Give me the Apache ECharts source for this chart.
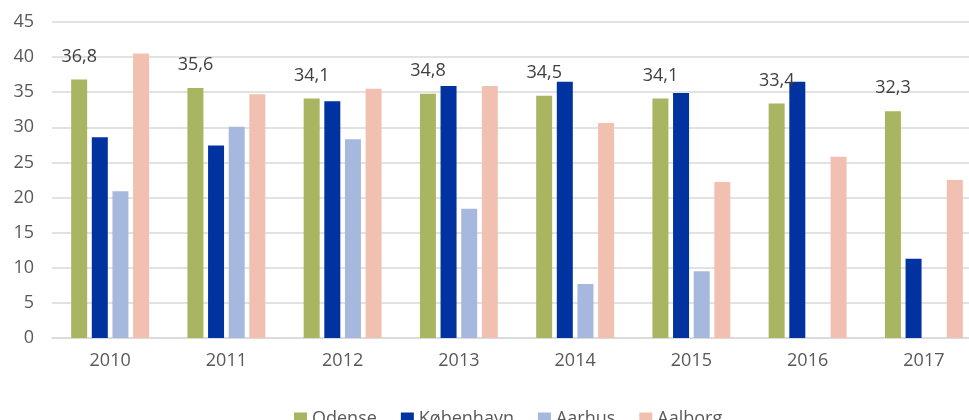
<!DOCTYPE html>
<html>
<head>
<meta charset="utf-8">
<script src="https://cdn.jsdelivr.net/npm/echarts@6/dist/echarts.min.js"></script>
<style>
  html, body { margin: 0; padding: 0; background: #fff; }
  #chart { width: 969px; height: 420px; }
</style>
</head>
<body>
<div id="chart"></div>
<script>
// år på x-aksen
var years = ['2010', '2011', '2012', '2013', '2014', '2015', '2016', '2017'];
var yTicks = [0, 5, 10, 15, 20, 25, 30, 35, 40, 45];
// værdier
var odense = [36.8, 35.6, 34.1, 34.8, 34.5, 34.1, 33.4, 32.3];
var koebenhavn = [28.6, 27.4, 33.7, 35.9, 36.5, 34.9, 36.5, 11.3];
var aarhus = [20.9, 30.1, 28.3, 18.4, 7.7, 9.5, null, null];
var aalborg = [40.5, 34.7, 35.5, 35.9, 30.6, 22.2, 25.8, 22.5];

var font = '"Open Sans", "Liberation Sans", sans-serif';
var chart = echarts.init(document.getElementById('chart'));

function bar(name, data, color, withLabel) {
  var s = {
    name: name,
    type: 'bar',
    data: data,
    barWidth: 16,
    barGap: '29%',
    itemStyle: { color: color },
    emphasis: { disabled: true }
  };
  if (withLabel) {
    s.label = {
      show: true,
      position: 'top',
      distance: 14,
      color: '#404040',
      fontFamily: font,
      fontSize: 18,
      formatter: function (p) {
        return String(p.value).replace('.', ',');
      }
    };
  }
  return s;
}

chart.setOption({
  animation: false,
  grid: {
    left: 52,
    width: 930,
    top: 22,
    height: 316,
    outerBoundsMode: 'none'
  },
  legend: {
    data: ['Odense', 'København', 'Aarhus', 'Aalborg'],
    left: 289,
    top: 405,
    itemWidth: 13,
    itemHeight: 13,
    itemGap: 24,
    icon: 'rect',
    textStyle: { color: '#595959', fontFamily: font, fontSize: 18 }
  },
  xAxis: {
    type: 'category',
    data: years,
    axisLine: { lineStyle: { color: '#d9d9d9', width: 1.5 } },
    axisTick: { show: false },
    axisLabel: { color: '#595959', fontFamily: font, fontSize: 18, margin: 14 }
  },
  yAxis: {
    type: 'value',
    min: yTicks[0],
    max: yTicks[yTicks.length - 1],
    interval: 5,
    axisLine: { show: false },
    axisTick: { show: false },
    splitLine: { lineStyle: { color: '#d9d9d9', width: 1.5 } },
    axisLabel: { color: '#595959', fontFamily: font, fontSize: 18, margin: 18 }
  },
  series: [
    bar('Odense', odense, '#a9b561', true),
    bar('København', koebenhavn, '#0032a0', false),
    bar('Aarhus', aarhus, '#a7b8df', false),
    bar('Aalborg', aalborg, '#f1c0b0', false)
  ]
});
</script>
</body>
</html>
